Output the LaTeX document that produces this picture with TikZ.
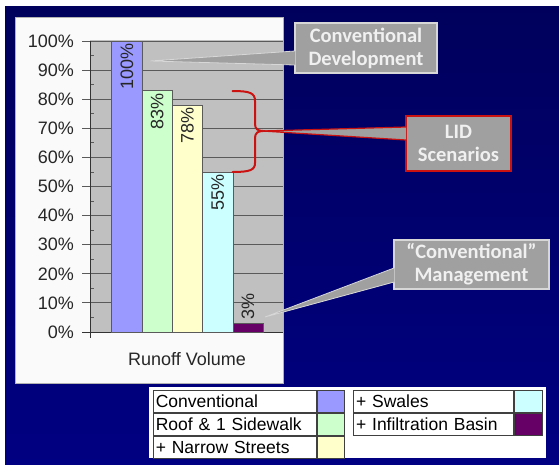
\documentclass[tikz,border=0pt]{standalone}
\usepackage{fontspec}
\setmainfont{Liberation Sans}
\newfontfamily\calloutfont{Carlito}
\usetikzlibrary{positioning}
\definecolor{navytop}{RGB}{0,0,92}
\definecolor{navybot}{RGB}{0,0,130}
\definecolor{panelwhite}{RGB}{250,250,250}
\definecolor{plotgray}{RGB}{192,192,192}
\definecolor{gridgray}{RGB}{90,90,90}
\definecolor{barconv}{RGB}{153,153,255}
\definecolor{barroof}{RGB}{204,255,204}
\definecolor{barnarrow}{RGB}{255,255,204}
\definecolor{barswales}{RGB}{204,255,255}
\definecolor{barinfil}{RGB}{102,0,102}
\definecolor{calloutgray}{RGB}{160,160,160}
\definecolor{calloutedge}{RGB}{215,215,215}
\definecolor{lidred}{RGB}{204,17,17}
\definecolor{legline}{RGB}{64,64,64}

\begin{document}
\begin{tikzpicture}[x=1pt,y=-1pt,
    ticklabel/.style={anchor=east,inner sep=0pt,text=black!85,font=\fontsize{18}{20}\selectfont},
    barlabel/.style={rotate=90,inner sep=0pt,text=black!85,font=\fontsize{18}{20}\selectfont},
    barline/.style={draw=gridgray,line width=0.8pt},
    callout/.style={fill=calloutgray,draw=calloutedge,line width=1.2pt,text=white!94!black,
      align=center,inner sep=0pt,font=\calloutfont\bfseries\fontsize{20.5}{23}\selectfont},
    legtext/.style={draw=legline,fill=white,line width=1.2pt,anchor=north west,minimum height=21.7pt,
      inner xsep=2.5pt,inner ysep=0pt,align=left,font=\fontsize{17.5}{19}\selectfont},
    swatch/.style={draw=legline,line width=1.2pt,minimum height=21.7pt,inner sep=0pt}]
  \useasboundingbox (0,0) rectangle (559,464);
  \fill[white] (0,0) rectangle (559,464);
  \shade[top color=navytop,bottom color=navybot] (5,6) rectangle (559,464);
  \draw[gray!60,fill=panelwhite] (15,17) rectangle (283,383);
  \fill[plotgray] (90,40) rectangle (283,332);
  \foreach \v in {0,10,...,100}{
    \pgfmathsetmacro{\yy}{332-2.91*\v}
    \draw[gridgray,line width=0.9pt] (90,\yy) -- (283,\yy);
    \draw[gridgray,line width=0.9pt] (82,\yy) -- (90,\yy);
    \node[ticklabel] (tick\v) at (74,\yy) {\v\%};
  }
  \foreach \v in {5,15,...,95}{
    \pgfmathsetmacro{\yy}{332-2.91*\v}
    \draw[gridgray,line width=0.8pt] (90,\yy) -- (94,\yy);
  }
  \draw[black!80,line width=1pt] (90,41) -- (90,338);
  \draw[black!80,line width=1pt] (82,332) -- (283,332);
  \foreach \x/\h/\c in {111.7/100/barconv,142/83/barroof,172.3/78/barnarrow,202.6/55/barswales,232.9/3/barinfil}{
    \draw[barline,fill=\c] (\x,332) rectangle ({\x+30.3},{332-2.91*\h});
  }
  \foreach \x/\h/\n in {111.7/100/conv,142/83/roof,172.3/78/narrow,202.6/55/swales}{
    \node[barlabel,anchor=east] (lab\n) at ({\x+15.2},{332-2.91*\h+2.5}) {\h\%};
  }
  \node[barlabel,anchor=west] (labinfil) at (248,319.5) {3\%};
  \node[inner sep=0pt,text=black!85,font=\fontsize{18}{20}\selectfont] (runoff) at (187,359) {Runoff Volume};
  \draw[lidred,line width=2pt,line cap=round] (232.5,91) .. controls (250,91) and (255,93) .. (255,101)
    -- (255,124) .. controls (255,129) and (258,131) .. (263,131)
    .. controls (258,131) and (255,133) .. (255,138) -- (255,163)
    .. controls (255,170) and (250,172) .. (232.5,172);
  \node[callout,minimum width=142pt,minimum height=50pt] (devbox) at (366,48) {Conventional\\Development};
  \node[callout,draw=lidred,line width=1.6pt,minimum width=105pt,minimum height=55pt] (lidbox) at (458.5,143.5) {LID\\Scenarios};
  \node[callout,minimum width=155pt,minimum height=49pt] (mgmtbox) at (471.5,264.5) {“Conventional”\\Management};
  \coordinate (devtip) at (150,61);
  \coordinate (lidtip) at (262,131);
  \coordinate (mgmttip) at (265,317);
  \fill[calloutgray] ([xshift=1pt,yshift=-3pt]devbox.west) -- (devtip) -- ([xshift=1pt,yshift=-17pt]devbox.west) -- cycle;
  \draw[calloutedge,line width=0.8pt] ([xshift=0.6pt,yshift=-3pt]devbox.west) -- (devtip) -- ([xshift=0.6pt,yshift=-17pt]devbox.west);
  \fill[calloutgray] ([xshift=1pt,yshift=16.5pt]lidbox.west) -- (lidtip) -- ([xshift=1pt,yshift=3.5pt]lidbox.west) -- cycle;
  \draw[lidred,line width=1.2pt] ([xshift=0.8pt,yshift=16.5pt]lidbox.west) -- (lidtip) -- ([xshift=0.8pt,yshift=3.5pt]lidbox.west);
  \fill[calloutgray] ([xshift=1pt,yshift=-3.5pt]mgmtbox.west) -- (mgmttip) -- ([xshift=1pt,yshift=-17.5pt]mgmtbox.west) -- cycle;
  \draw[calloutedge,line width=0.8pt] ([xshift=0.6pt,yshift=-3.5pt]mgmtbox.west) -- (mgmttip) -- ([xshift=0.6pt,yshift=-17.5pt]mgmtbox.west);
  \fill[white] (149,387) rectangle (546,458);
  \node[legtext,text width=158.3pt] (legconv) at (152.7,390) {Conventional};
  \node[legtext,text width=158.3pt,below=0pt of legconv] (legroof) {Roof \& 1 Sidewalk};
  \node[legtext,text width=158.3pt,below=0pt of legroof] (legnarrow) {+ Narrow Streets};
  \node[swatch,fill=barconv,minimum width=27pt,right=0pt of legconv] (swconv) {};
  \node[swatch,fill=barroof,minimum width=27pt,right=0pt of legroof] (swroof) {};
  \node[swatch,fill=barnarrow,minimum width=27pt,right=0pt of legnarrow] (swnarrow) {};
  \node[legtext,text width=155pt] (legswales) at (353,390) {+ Swales};
  \node[legtext,text width=155pt,below=0pt of legswales] (leginfil) {+ Infiltration Basin};
  \node[swatch,fill=barswales,minimum width=28pt,right=0pt of legswales] (swswales) {};
  \node[swatch,fill=barinfil,minimum width=28pt,right=0pt of leginfil] (swinfil) {};
\end{tikzpicture}
\end{document}
